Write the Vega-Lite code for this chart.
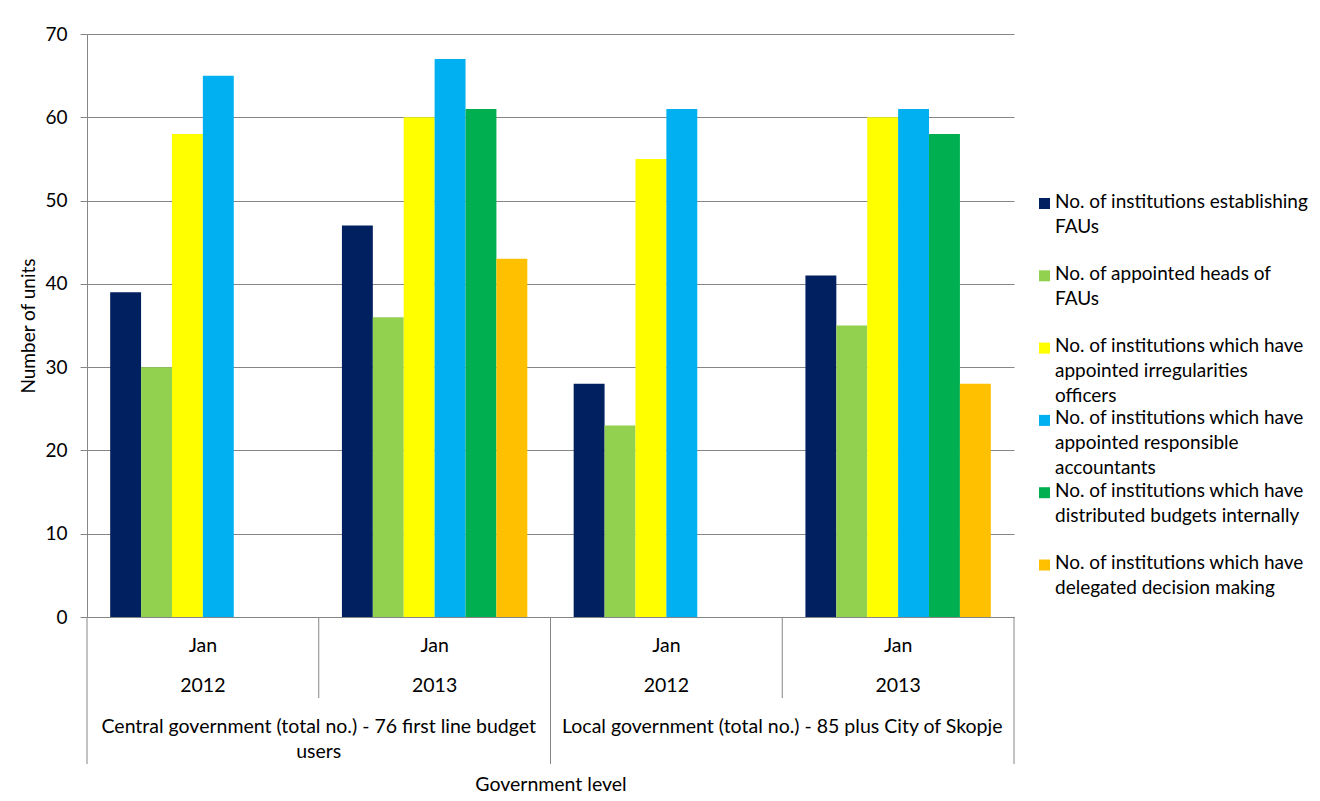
{
  "$schema": "https://vega.github.io/schema/vega-lite/v6.json",
  "padding": {"left": 19, "top": 25, "right": 5, "bottom": 5},
  "background": "white",
  "bounds": "flush",
  "spacing": 0,
  "config": {
    "font": "Lato",
    "view": {"stroke": null},
    "text": {"font": "Lato", "fontSize": 19.5, "color": "#000000"},
    "axis": {"labelFont": "Lato", "titleFont": "Lato", "labelColor": "#000000", "titleColor": "#000000"}
  },
  "datasets": {
    "bars": [
      {"level": "Central", "year": "2012", "group": "Central 2012", "series": "No. of institutions establishing FAUs", "value": 39},
      {"level": "Central", "year": "2012", "group": "Central 2012", "series": "No. of appointed heads of FAUs", "value": 30},
      {"level": "Central", "year": "2012", "group": "Central 2012", "series": "No. of institutions which have appointed irregularities officers", "value": 58},
      {"level": "Central", "year": "2012", "group": "Central 2012", "series": "No. of institutions which have appointed responsible accountants", "value": 65},
      {"level": "Central", "year": "2013", "group": "Central 2013", "series": "No. of institutions establishing FAUs", "value": 47},
      {"level": "Central", "year": "2013", "group": "Central 2013", "series": "No. of appointed heads of FAUs", "value": 36},
      {"level": "Central", "year": "2013", "group": "Central 2013", "series": "No. of institutions which have appointed irregularities officers", "value": 60},
      {"level": "Central", "year": "2013", "group": "Central 2013", "series": "No. of institutions which have appointed responsible accountants", "value": 67},
      {"level": "Central", "year": "2013", "group": "Central 2013", "series": "No. of institutions which have distributed budgets internally", "value": 61},
      {"level": "Central", "year": "2013", "group": "Central 2013", "series": "No. of institutions which have delegated decision making", "value": 43},
      {"level": "Local", "year": "2012", "group": "Local 2012", "series": "No. of institutions establishing FAUs", "value": 28},
      {"level": "Local", "year": "2012", "group": "Local 2012", "series": "No. of appointed heads of FAUs", "value": 23},
      {"level": "Local", "year": "2012", "group": "Local 2012", "series": "No. of institutions which have appointed irregularities officers", "value": 55},
      {"level": "Local", "year": "2012", "group": "Local 2012", "series": "No. of institutions which have appointed responsible accountants", "value": 61},
      {"level": "Local", "year": "2013", "group": "Local 2013", "series": "No. of institutions establishing FAUs", "value": 41},
      {"level": "Local", "year": "2013", "group": "Local 2013", "series": "No. of appointed heads of FAUs", "value": 35},
      {"level": "Local", "year": "2013", "group": "Local 2013", "series": "No. of institutions which have appointed irregularities officers", "value": 60},
      {"level": "Local", "year": "2013", "group": "Local 2013", "series": "No. of institutions which have appointed responsible accountants", "value": 61},
      {"level": "Local", "year": "2013", "group": "Local 2013", "series": "No. of institutions which have distributed budgets internally", "value": 58},
      {"level": "Local", "year": "2013", "group": "Local 2013", "series": "No. of institutions which have delegated decision making", "value": 28}
    ],
    "groups": [
      {"group": "Central 2012", "month": "Jan", "year": "2012"},
      {"group": "Central 2013", "month": "Jan", "year": "2013"},
      {"group": "Local 2012", "month": "Jan", "year": "2012"},
      {"group": "Local 2013", "month": "Jan", "year": "2013"}
    ],
    "levels": [
      {"level": "Central", "label": "Central government (total no.) - 76 first line budget\nusers"},
      {"level": "Local", "label": "Local government (total no.) - 85 plus City of Skopje"}
    ]
  },
  "vconcat": [
    {
      "width": 927,
      "height": 583,
      "data": {"name": "bars"},
      "mark": {"type": "bar"},
      "encoding": {
        "x": {
          "field": "group", "type": "nominal",
          "sort": ["Central 2012", "Central 2013", "Local 2012", "Local 2013"],
          "scale": {"paddingInner": 0.2, "paddingOuter": 0.1},
          "axis": {"labels": false, "ticks": false, "title": null, "domainColor": "#868686", "grid": false}
        },
        "xOffset": {
          "field": "series", "type": "nominal",
          "sort": [
            "No. of institutions establishing FAUs",
            "No. of appointed heads of FAUs",
            "No. of institutions which have appointed irregularities officers",
            "No. of institutions which have appointed responsible accountants",
            "No. of institutions which have distributed budgets internally",
            "No. of institutions which have delegated decision making"
          ],
          "scale": {"paddingInner": 0, "paddingOuter": 0}
        },
        "y": {
          "field": "value", "type": "quantitative",
          "scale": {"domain": [0, 70]},
          "axis": {
            "values": [0, 10, 20, 30, 40, 50, 60, 70],
            "title": "Number of units",
            "titleFontWeight": "normal", "titleFontSize": 19, "titlePadding": 6,
            "labelFontSize": 19, "labelPadding": 13, "tickSize": 7,
            "tickColor": "#868686", "domainColor": "#868686",
            "grid": true, "gridColor": "#868686", "gridOpacity": 1
          }
        },
        "color": {
          "field": "series", "type": "nominal",
          "scale": {
            "domain": [
              "No. of institutions establishing FAUs",
              "No. of appointed heads of FAUs",
              "No. of institutions which have appointed irregularities officers",
              "No. of institutions which have appointed responsible accountants",
              "No. of institutions which have distributed budgets internally",
              "No. of institutions which have delegated decision making"
            ],
            "range": ["#002060", "#92D050", "#FFFF00", "#00B0F0", "#00B050", "#FFC000"]
          },
          "legend": {
            "title": null,
            "orient": "none",
            "legendX": 948,
            "legendY": 160,
            "symbolType": "square",
            "symbolSize": 121,
            "symbolStrokeWidth": 0,
            "labelFont": "Lato",
            "labelFontSize": 19,
            "labelColor": "#000000",
            "labelLimit": 0,
            "labelOffset": 1,
            "labelBaseline": "top",
            "rowPadding": 2.3,
            "gridAlign": "all",
            "labelExpr": "datum.label == 'No. of institutions establishing FAUs' ? ['No. of institutions establishing', 'FAUs'] : datum.label == 'No. of appointed heads of FAUs' ? ['No. of appointed heads of', 'FAUs'] : datum.label == 'No. of institutions which have appointed irregularities officers' ? ['No. of institutions which have', 'appointed irregularities', 'officers'] : datum.label == 'No. of institutions which have appointed responsible accountants' ? ['No. of institutions which have', 'appointed responsible', 'accountants'] : datum.label == 'No. of institutions which have distributed budgets internally' ? ['No. of institutions which have', 'distributed budgets internally'] : ['No. of institutions which have', 'delegated decision making']",
            "encode": {"labels": {"update": {"lineHeight": {"value": 25}, "dy": {"value": -11}}}}
          }
        }
      }
    },
    {
      "width": 927,
      "height": 81,
      "data": {"name": "groups"},
      "layer": [
        {
          "mark": {"type": "rule", "color": "#868686"},
          "encoding": {
            "x": {"field": "group", "type": "nominal", "bandPosition": 0,
                  "sort": ["Central 2012", "Central 2013", "Local 2012", "Local 2013"],
                  "scale": {"paddingInner": 0, "paddingOuter": 0}, "axis": null}
          }
        },
        {
          "transform": [{"filter": "datum.group == 'Local 2013'"}],
          "mark": {"type": "rule", "color": "#868686"},
          "encoding": {
            "x": {"field": "group", "type": "nominal", "bandPosition": 1,
                  "sort": ["Central 2012", "Central 2013", "Local 2012", "Local 2013"],
                  "scale": {"paddingInner": 0, "paddingOuter": 0}, "axis": null}
          }
        },
        {
          "mark": {"type": "text", "fontSize": 19.5, "baseline": "middle", "dy": -11.5},
          "encoding": {
            "x": {"field": "group", "type": "nominal",
                  "sort": ["Central 2012", "Central 2013", "Local 2012", "Local 2013"],
                  "scale": {"paddingInner": 0, "paddingOuter": 0}, "axis": null},
            "text": {"field": "month"}
          }
        },
        {
          "mark": {"type": "text", "fontSize": 19.5, "baseline": "middle", "dy": 28.5},
          "encoding": {
            "x": {"field": "group", "type": "nominal",
                  "sort": ["Central 2012", "Central 2013", "Local 2012", "Local 2013"],
                  "scale": {"paddingInner": 0, "paddingOuter": 0}, "axis": null},
            "text": {"field": "year"}
          }
        }
      ]
    },
    {
      "width": 927,
      "height": 66,
      "data": {"name": "levels"},
      "layer": [
        {
          "mark": {"type": "rule", "color": "#868686"},
          "encoding": {
            "x": {"field": "level", "type": "nominal", "bandPosition": 0,
                  "scale": {"paddingInner": 0, "paddingOuter": 0},
                  "axis": {"labels": false, "ticks": false, "domain": false, "title": "Government level",
                           "titleFontWeight": "normal", "titleFontSize": 19.5, "titlePadding": 11}}
          }
        },
        {
          "transform": [{"filter": "datum.level == 'Local'"}],
          "mark": {"type": "rule", "color": "#868686"},
          "encoding": {
            "x": {"field": "level", "type": "nominal", "bandPosition": 1,
                  "scale": {"paddingInner": 0, "paddingOuter": 0}}
          }
        },
        {
          "mark": {"type": "text", "fontSize": 19.5, "baseline": "top", "dy": -13, "lineBreak": "\n", "lineHeight": 25},
          "encoding": {
            "x": {"field": "level", "type": "nominal",
                  "scale": {"paddingInner": 0, "paddingOuter": 0}},
            "text": {"field": "label"}
          }
        }
      ]
    }
  ]
}
